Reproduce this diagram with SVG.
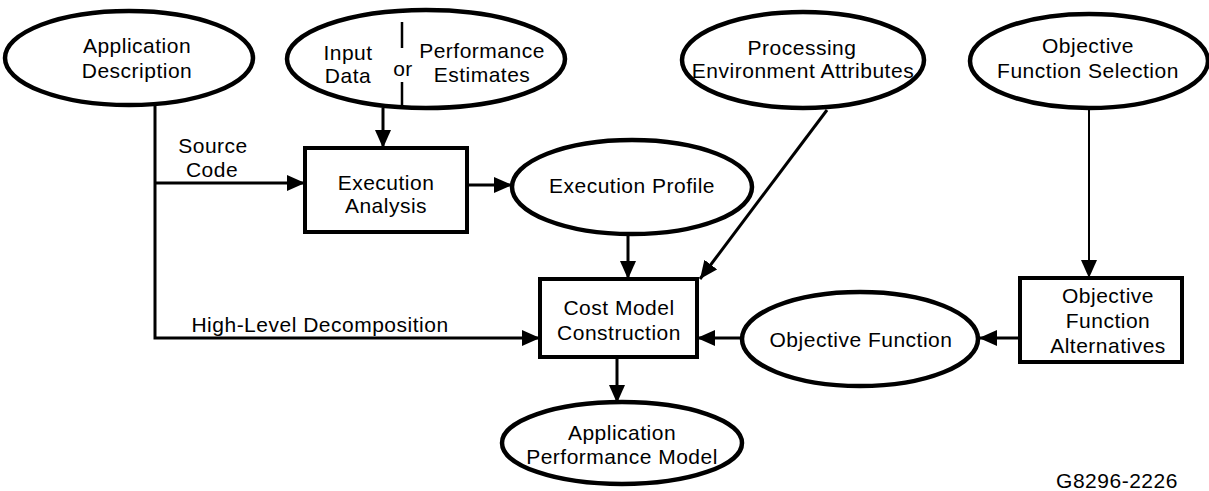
<svg xmlns="http://www.w3.org/2000/svg" width="1209" height="491" viewBox="0 0 1209 491">
<style>
.node ellipse{fill:#fff;stroke:#000;stroke-width:4.5}
.node rect{fill:#fff;stroke:#000;stroke-width:4}
text{font-family:"Liberation Sans",Arial,sans-serif;font-size:21px;letter-spacing:0.5px;fill:#000;text-anchor:middle}
.conn path{fill:none;stroke:#000;stroke-width:3}
.thin{stroke-width:2 !important}
</style>
<defs>
<marker id="ah" markerUnits="userSpaceOnUse" markerWidth="20" markerHeight="18" refX="18" refY="8" orient="auto">
<path d="M0,0 L18,8 L0,16 Z" fill="#000"/>
</marker>
</defs>
<rect width="1209" height="491" fill="#fff"/>
<g class="conn" id="connectors">
<path d="M155,105 V338 H540" marker-end="url(#ah)"/>
<path d="M155,183 H305" marker-end="url(#ah)"/>
<path d="M383,108 V148" marker-end="url(#ah)"/>
<path d="M467,185 H512" marker-end="url(#ah)"/>
<path d="M628,234 V279" marker-end="url(#ah)"/>
<path d="M827,110 L700,279" marker-end="url(#ah)"/>
<path d="M617,357 V403" marker-end="url(#ah)"/>
<path d="M742,338 H697" marker-end="url(#ah)"/>
<path d="M1020,338 H979" marker-end="url(#ah)"/>
<path class="thin" d="M1089,108 V278" marker-end="url(#ah)"/>
</g>
<g class="node" id="app-desc">
<ellipse cx="129" cy="58" rx="124" ry="47"/>
<text x="137" y="53">Application</text>
<text x="137" y="78">Description</text>
</g>
<g class="node" id="input-perf">
<ellipse cx="426" cy="59" rx="139" ry="49"/>
<text x="348" y="60">Input</text>
<text x="348" y="83">Data</text>
<path d="M402,22 V48 M402,82 V106" stroke="#000" stroke-width="2.5" fill="none"/>
<text x="403" y="76">or</text>
<text x="482" y="58">Performance</text>
<text x="482" y="82">Estimates</text>
</g>
<g class="node" id="proc-env">
<ellipse cx="803" cy="60" rx="121" ry="48"/>
<text x="802" y="55">Processing</text>
<text x="803" y="78" letter-spacing="1">Environment Attributes</text>
</g>
<g class="node" id="obj-sel">
<ellipse cx="1089" cy="61" rx="119" ry="47"/>
<text x="1088" y="53">Objective</text>
<text x="1088" y="78">Function Selection</text>
</g>
<g class="node" id="exec-analysis">
<rect x="305" y="148" width="162" height="84"/>
<text x="386" y="190">Execution</text>
<text x="386" y="213">Analysis</text>
</g>
<g class="node" id="exec-profile">
<ellipse cx="632" cy="187" rx="120" ry="47"/>
<text x="632" y="193">Execution Profile</text>
</g>
<g class="node" id="cost-model">
<rect x="540" y="279" width="157" height="78"/>
<text x="619" y="315">Cost Model</text>
<text x="619" y="340">Construction</text>
</g>
<g class="node" id="obj-func">
<ellipse cx="860" cy="339" rx="118" ry="47"/>
<text x="861" y="347">Objective Function</text>
</g>
<g class="node" id="obj-alt">
<rect x="1020" y="278" width="162" height="84"/>
<text x="1108" y="303">Objective</text>
<text x="1108" y="328">Function</text>
<text x="1108" y="353">Alternatives</text>
</g>
<g class="node" id="app-perf">
<ellipse cx="622" cy="443" rx="120" ry="41"/>
<text x="622" y="440">Application</text>
<text x="622" y="464">Performance Model</text>
</g>
<g id="labels">
<text x="213" y="153">Source</text>
<text x="212" y="177">Code</text>
<text x="320" y="332">High-Level Decomposition</text>
<text x="1117" y="488" font-size="19">G8296-2226</text>
</g>
</svg>
